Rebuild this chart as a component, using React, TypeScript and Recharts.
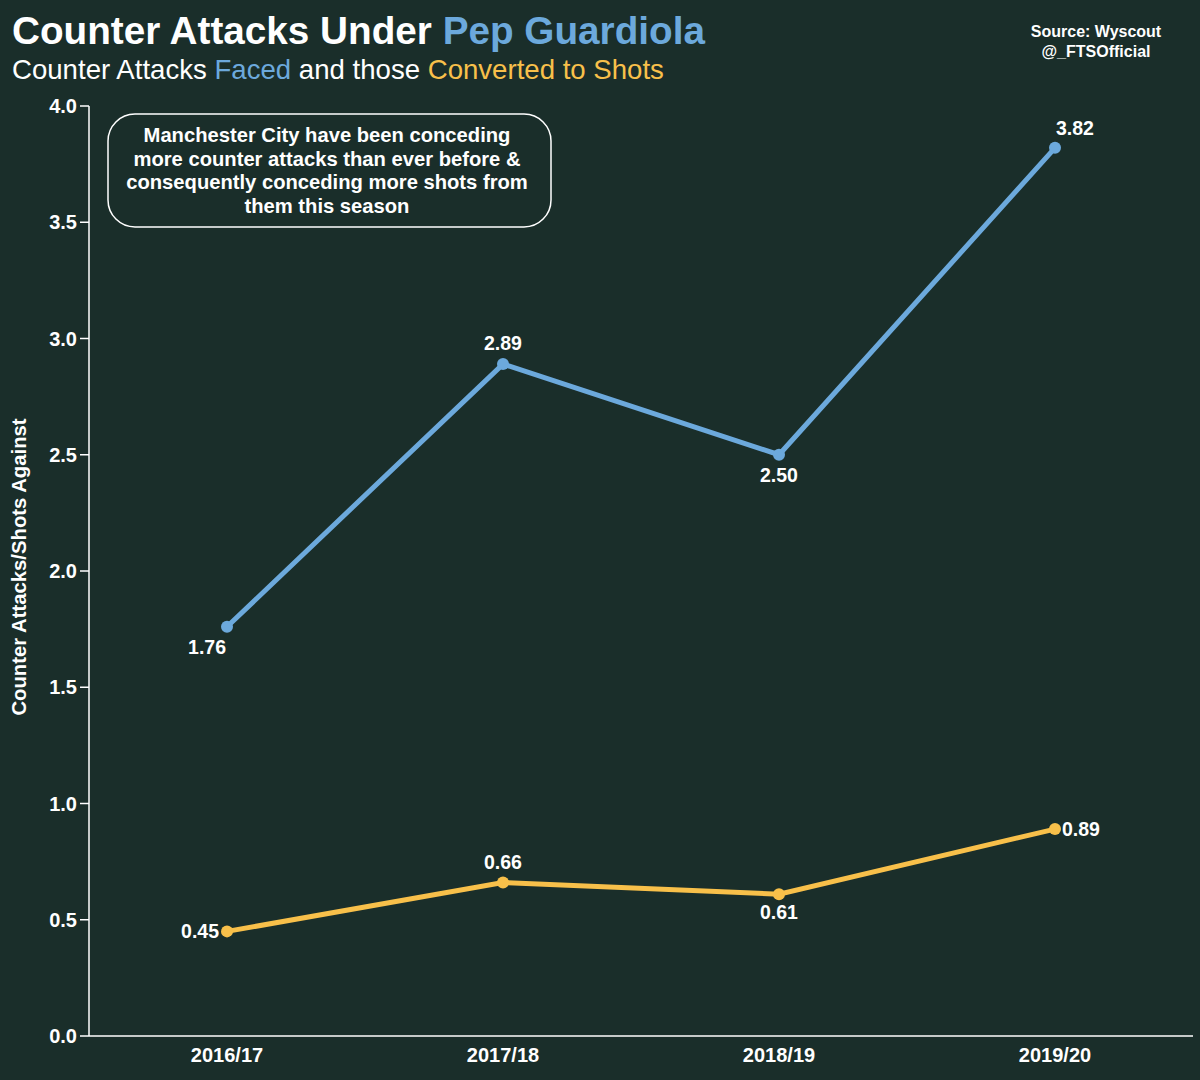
import React from 'react';
import { LineChart, Line, XAxis, YAxis, LabelList } from 'recharts';

const seasons = ['2016/17', '2017/18', '2018/19', '2019/20'];
const facedValues = [1.76, 2.89, 2.5, 3.82];
const shotValues = [0.45, 0.66, 0.61, 0.89];
const yTicks = [0, 0.5, 1, 1.5, 2, 2.5, 3, 3.5, 4];
const noteLines = [
  'Manchester City have been conceding',
  'more counter attacks than ever before &',
  'consequently conceding more shots from',
  'them this season',
];

const BG = '#1a2e2a';
const BLUE = '#6ca9dc';
const YELLOW = '#f8c04a';
const FONT = '"Liberation Sans", Arial, Helvetica, sans-serif';

const data = seasons.map((s, i) => ({ season: s, faced: facedValues[i], shots: shotValues[i] }));

type Place = { dx: number; dy: number; anchor: 'start' | 'middle' | 'end' };
const facedPlace: Place[] = [
  { dx: -1, dy: 27, anchor: 'end' },
  { dx: 0, dy: -14, anchor: 'middle' },
  { dx: 0, dy: 27, anchor: 'middle' },
  { dx: 1, dy: -13, anchor: 'start' },
];
const shotPlace: Place[] = [
  { dx: -8, dy: 7, anchor: 'end' },
  { dx: 0, dy: -14, anchor: 'middle' },
  { dx: 0, dy: 25, anchor: 'middle' },
  { dx: 7, dy: 7, anchor: 'start' },
];

const makeLabel = (places: Place[]) => (props: any) => {
  const { x, y, index, value } = props;
  const p = places[index];
  return (
    <text
      x={Number(x) + p.dx}
      y={Number(y) + p.dy}
      textAnchor={p.anchor}
      fill="#ffffff"
      fontFamily={FONT}
      fontWeight="bold"
      fontSize={19.5}
    >
      {Number(value).toFixed(2)}
    </text>
  );
};

export default function App() {
  return (
    <div
      style={{
        position: 'absolute',
        left: 0,
        top: 0,
        width: 1200,
        height: 1080,
        background: BG,
        fontFamily: FONT,
      }}
    >
      <LineChart
        width={1200}
        height={1080}
        data={data}
        margin={{ top: 106, right: 7, bottom: 14, left: 29 }}
      >
        <XAxis
          dataKey="season"
          type="category"
          scale="point"
          padding={{ left: 138, right: 138 }}
          height={30}
          axisLine={{ stroke: '#ffffff', strokeWidth: 1.5 }}
          tickLine={false}
          tickSize={6}
          tickMargin={6}
          tick={{ fill: '#ffffff', fontSize: 20, fontWeight: 'bold', fontFamily: FONT }}
        />
        <YAxis
          type="number"
          domain={[0, 4]}
          ticks={yTicks}
          width={60}
          interval={0}
          tickFormatter={(v: number) => v.toFixed(1)}
          axisLine={{ stroke: '#ffffff', strokeWidth: 1.5 }}
          tickLine={{ stroke: '#ffffff', strokeWidth: 1.5 }}
          tickSize={9}
          tickMargin={3}
          tick={{ fill: '#ffffff', fontSize: 20, fontWeight: 'bold', fontFamily: FONT }}
        />
        <Line
          dataKey="faced"
          stroke={BLUE}
          strokeWidth={5}
          dot={{ r: 6, fill: BLUE, stroke: 'none' }}
          activeDot={false}
          isAnimationActive={false}
        >
          <LabelList dataKey="faced" content={makeLabel(facedPlace)} />
        </Line>
        <Line
          dataKey="shots"
          stroke={YELLOW}
          strokeWidth={5}
          dot={{ r: 6, fill: YELLOW, stroke: 'none' }}
          activeDot={false}
          isAnimationActive={false}
        >
          <LabelList dataKey="shots" content={makeLabel(shotPlace)} />
        </Line>
      </LineChart>
      <svg
        width={1200}
        height={1080}
        style={{ position: 'absolute', left: 0, top: 0, pointerEvents: 'none' }}
      >
        <text x={12} y={44} fontFamily={FONT} fontWeight="bold" fontSize={38.7} fill="#ffffff">
          Counter Attacks Under <tspan fill={BLUE}>Pep Guardiola</tspan>
        </text>
        <text x={12} y={79} fontFamily={FONT} fontSize={27.6} fill="#ffffff">
          Counter Attacks <tspan fill={BLUE}>Faced</tspan> and those{' '}
          <tspan fill={YELLOW}>Converted to Shots</tspan>
        </text>
        <text x={1096} y={37} textAnchor="middle" fontFamily={FONT} fontWeight="bold" fontSize={16} fill="#ffffff">
          Source: Wyscout
        </text>
        <text x={1096} y={57} textAnchor="middle" fontFamily={FONT} fontWeight="bold" fontSize={16} fill="#ffffff">
          @_FTSOfficial
        </text>
        <text
          x={19}
          y={567}
          transform="rotate(-90 19 567)"
          textAnchor="middle"
          dominantBaseline="central"
          fontFamily={FONT}
          fontWeight="bold"
          fontSize={20.3}
          fill="#ffffff"
        >
          Counter Attacks/Shots Against
        </text>
        <rect x={108} y={114} width={443} height={113} rx={27} ry={27} fill={BG} stroke="#ffffff" strokeWidth={1.5} />
        {noteLines.map((line, i) => (
          <text
            key={i}
            x={327}
            y={142 + i * 23.7}
            textAnchor="middle"
            fontFamily={FONT}
            fontWeight="bold"
            fontSize={20.2}
            fill="#ffffff"
          >
            {line}
          </text>
        ))}
      </svg>
    </div>
  );
}
